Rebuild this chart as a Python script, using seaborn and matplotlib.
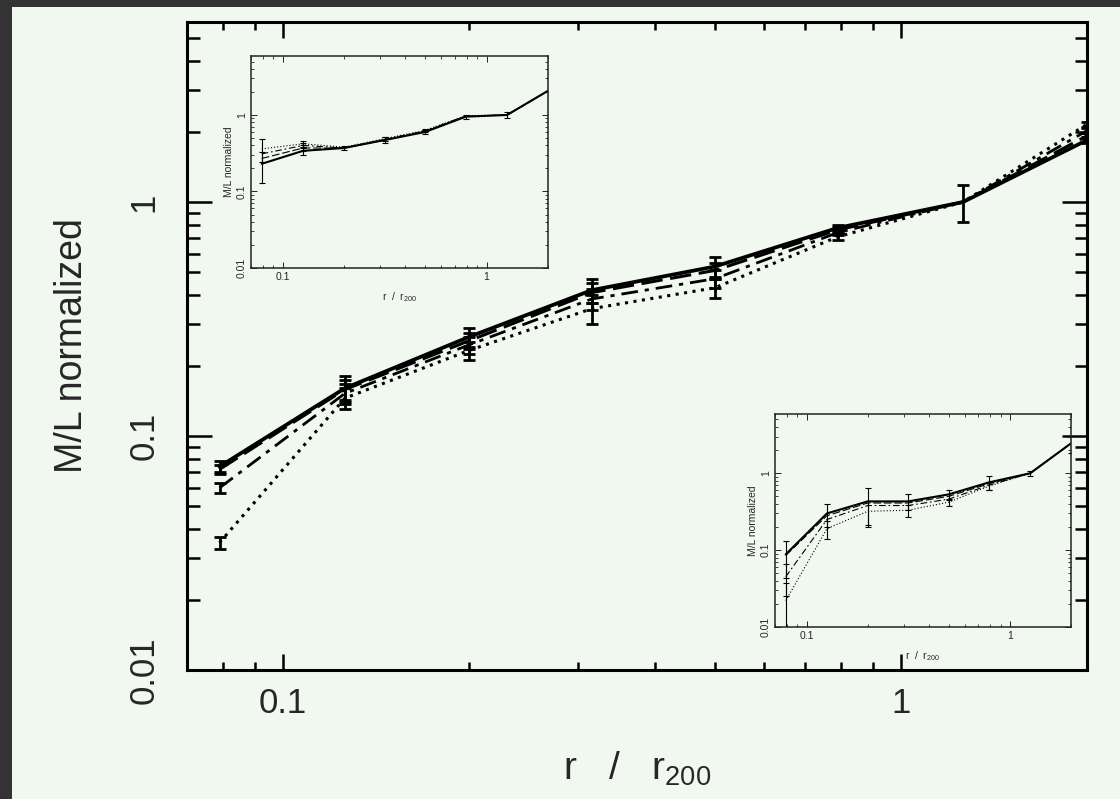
import numpy as np
import pandas as pd
import matplotlib
matplotlib.use('Agg')
import matplotlib.pyplot as plt
from matplotlib.patches import Rectangle
from matplotlib.ticker import FuncFormatter, NullFormatter, LogLocator
import seaborn as sns

# radii (r / r200) of the bins
r_vals = [0.079, 0.126, 0.2, 0.316, 0.5, 0.79, 1.26, 2.0]

# main panel: four profiles
main_solid   = [0.074, 0.160, 0.265, 0.42, 0.53, 0.775, 1.0, 1.84]
main_dashed  = [0.072, 0.158, 0.255, 0.41, 0.51, 0.76, 1.0, 1.92]
main_dashdot = [0.060, 0.152, 0.245, 0.385, 0.47, 0.74, 1.0, 2.02]
main_dotted  = [0.035, 0.145, 0.232, 0.35, 0.43, 0.71, 1.0, 2.15]
main_solid_err   = [0.004, 0.02, 0.025, 0.05, 0.05, 0.025, 0.18, 0.05]
main_dashed_err  = [0.003, 0.015, 0.02, 0.04, 0.04, 0.02, 0.0, 0.05]
main_dashdot_err = [0.003, 0.015, 0.02, 0.04, 0.04, 0.02, 0.0, 0.05]
main_dotted_err  = [0.002, 0.015, 0.02, 0.05, 0.04, 0.02, 0.0, 0.05]

# upper-left inset
in1_solid   = [0.23, 0.34, 0.37, 0.47, 0.60, 0.95, 1.0, 2.07]
in1_dashed  = [0.27, 0.37, 0.37, 0.47, 0.61, 0.96, 1.0, 2.07]
in1_dashdot = [0.31, 0.40, 0.37, 0.48, 0.62, 0.97, 1.0, 2.07]
in1_dotted  = [0.36, 0.42, 0.38, 0.49, 0.63, 0.98, 1.0, 2.07]
in1_solid_err   = [0.10, 0.04, 0.02, 0.04, 0.04, 0.06, 0.08, 0.0]
in1_dashed_err  = [0.0, 0.03, 0.0, 0.0, 0.0, 0.0, 0.0, 0.0]
in1_dashdot_err = [0.0, 0.03, 0.0, 0.0, 0.0, 0.0, 0.0, 0.0]
in1_dotted_err  = [0.12, 0.04, 0.0, 0.03, 0.03, 0.0, 0.0, 0.0]

# lower-right inset
in2_solid   = [0.088, 0.30, 0.43, 0.43, 0.53, 0.76, 1.0, 2.45]
in2_dashed  = [0.085, 0.28, 0.41, 0.41, 0.50, 0.73, 1.0, 2.45]
in2_dashdot = [0.045, 0.25, 0.38, 0.38, 0.46, 0.70, 1.0, 2.45]
in2_dotted  = [0.022, 0.19, 0.32, 0.33, 0.42, 0.68, 1.0, 2.45]
in2_solid_err   = [0.045, 0.10, 0.22, 0.10, 0.08, 0.15, 0.08, 0.6]
in2_dashed_err  = [0.0, 0.0, 0.0, 0.0, 0.0, 0.0, 0.0, 0.0]
in2_dashdot_err = [0.02, 0.0, 0.0, 0.0, 0.0, 0.0, 0.0, 0.0]
in2_dotted_err  = [0.015, 0.05, 0.12, 0.06, 0.04, 0.08, 0.0, 0.0]

bg = '#f1f8f0'
dark = '#333333'

sns.set_style('ticks')
plt.rcParams['font.family'] = ['Liberation Sans', 'DejaVu Sans']
plt.rcParams['mathtext.fontset'] = 'custom'
plt.rcParams['mathtext.rm'] = 'Liberation Sans'

styles = ['-', (0, (7, 2.5)), (0, (6, 2.5, 1.5, 2.5)), (0, (1, 1.8))]


def draw_profiles(ax, series, errs, lws, elw, cap):
    df = pd.DataFrame({'r': r_vals})
    for i, (y, e) in enumerate(zip(series, errs)):
        df['ml'] = y
        sns.lineplot(data=df, x='r', y='ml', ax=ax, color='black', linewidth=lws[i],
                     linestyle=styles[i], sort=False, legend=False, errorbar=None)
        e = np.asarray(e)
        m = e > 0
        if m.any():
            ax.errorbar(np.asarray(r_vals)[m], np.asarray(y)[m], yerr=e[m], fmt='none',
                        ecolor='black', elinewidth=elw, capsize=cap, capthick=elw)


def setup_log_axes(ax):
    ax.set_xscale('log')
    ax.set_yscale('log')
    ax.set_xlim(0.07, 2.0)
    ax.set_ylim(0.01, 5.9)
    for a in (ax.xaxis, ax.yaxis):
        a.set_major_locator(LogLocator(base=10))
        a.set_minor_locator(LogLocator(base=10, subs=np.arange(2, 10)))
        a.set_major_formatter(FuncFormatter(lambda v, p: f'{v:g}'))
        a.set_minor_formatter(NullFormatter())


fig = plt.figure(figsize=(11.2, 7.99), dpi=100)
fig.patch.set_facecolor(bg)
fig.add_artist(Rectangle((0, 0), 12 / 1120, 1, transform=fig.transFigure,
                         facecolor=dark, edgecolor='none', zorder=-1))
fig.add_artist(Rectangle((0, 1 - 7 / 799), 1, 7 / 799, transform=fig.transFigure,
                         facecolor=dark, edgecolor='none', zorder=-1))

# --- main panel ---
ax = fig.add_axes([0.167, 0.1615, 0.8036, 0.8114])
ax.set_facecolor(bg)
draw_profiles(ax, [main_solid, main_dashed, main_dashdot, main_dotted],
              [main_solid_err, main_dashed_err, main_dashdot_err, main_dotted_err],
              [2.7, 2.2, 2.0, 2.2], elw=2.0, cap=4.5)
setup_log_axes(ax)
for s in ax.spines.values():
    s.set_linewidth(2.2)
    s.set_color('black')
ax.tick_params(which='both', direction='in', top=True, right=True, color='black')
ax.tick_params(axis='x', which='major', length=11.5, width=1.8, pad=12, labelsize=25)
ax.tick_params(axis='x', which='minor', length=6, width=1.8)
ax.tick_params(axis='y', which='major', length=18, width=1.8, pad=19, labelsize=25, labelrotation=90)
ax.tick_params(axis='y', which='minor', length=9, width=1.8)
plt.setp(ax.get_yticklabels(), va='center')
ax.set_xlabel(r'r   /   r$_{\mathregular{200}}$', fontsize=28)
ax.set_ylabel('M/L normalized', fontsize=27)
ax.xaxis.set_label_coords(0.5, -0.123)
ax.yaxis.set_label_coords(-0.108, 0.5)

# --- insets ---
inset_specs = [
    ([0.2241, 0.6646, 0.2652, 0.2653],
     [in1_solid, in1_dashed, in1_dashdot, in1_dotted],
     [in1_solid_err, in1_dashed_err, in1_dashdot_err, in1_dotted_err]),
    ([0.692, 0.2153, 0.2643, 0.2666],
     [in2_solid, in2_dashed, in2_dashdot, in2_dotted],
     [in2_solid_err, in2_dashed_err, in2_dashdot_err, in2_dotted_err]),
]
for rect, series, errs in inset_specs:
    ins = fig.add_axes(rect)
    ins.set_facecolor('none')
    draw_profiles(ins, series, errs, [1.5, 0.8, 0.8, 0.8], elw=0.8, cap=2)
    setup_log_axes(ins)
    for s in ins.spines.values():
        s.set_linewidth(1.1)
        s.set_color('#222222')
    ins.tick_params(which='both', direction='in', top=True, right=True, color='#222222')
    ins.tick_params(which='major', length=4, width=0.7, pad=3, labelsize=7.5)
    ins.tick_params(which='minor', length=2, width=0.6)
    ins.tick_params(axis='y', labelrotation=90)
    plt.setp(ins.get_yticklabels(), va='center')
    ins.set_xlabel(r'r  /  r$_{\mathregular{200}}$', fontsize=7.5, labelpad=6)
    ins.set_ylabel('M/L normalized', fontsize=7.5, labelpad=2)

fig.savefig('out.png', dpi=100, facecolor=fig.get_facecolor())
